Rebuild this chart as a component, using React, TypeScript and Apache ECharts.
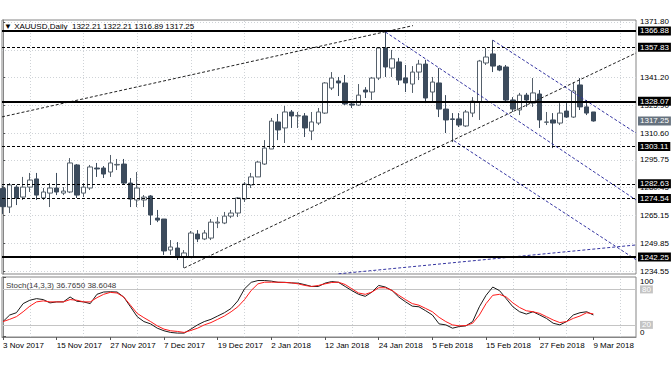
import React, { useEffect, useRef } from "react";
import * as echarts from "echarts";

const FONT = "'Liberation Sans', Arial, sans-serif";

const symbolName = "XAUUSD,Daily";

// Daily OHLC, 3 Nov 2017 (index 0) .. 9 Mar 2018 (index 88)
const opens = [
  1280.0, 1269.8, 1280.8, 1275.3, 1280.8, 1285.3, 1274.8, 1277.5, 1280.3, 1277.5,
  1278.1, 1293.0, 1277.5, 1280.3, 1291.3, 1291.3, 1289.1, 1293.0, 1293.5, 1283.0,
  1273.7, 1273.7, 1275.9, 1263.7, 1263.2, 1246.1, 1247.2, 1242.3, 1242.3, 1254.9,
  1252.2, 1252.7, 1261.0, 1261.0, 1264.8, 1266.5, 1274.2, 1282.0, 1286.4, 1293.5,
  1301.8, 1316.7, 1313.4, 1322.2, 1320.0, 1320.0, 1311.7, 1316.1, 1321.6, 1335.4,
  1339.3, 1338.2, 1326.6, 1326.0, 1334.3, 1333.2, 1340.9, 1357.5, 1346.4, 1349.8,
  1341.0, 1337.6, 1344.2, 1348.6, 1333.2, 1338.2, 1323.8, 1318.4, 1318.4, 1314.5,
  1321.6, 1327.7, 1349.2, 1354.2, 1347.5, 1347.0, 1328.8, 1323.3, 1331.5, 1327.1,
  1332.1, 1316.5, 1317.8, 1316.1, 1322.7, 1319.4, 1337.1, 1325.0, 1322.21,
];
const highs = [
  1281.5, 1283.0, 1282.0, 1286.4, 1288.6, 1288.6, 1280.3, 1283.0, 1288.6, 1280.8,
  1296.8, 1293.5, 1283.0, 1293.0, 1294.1, 1292.4, 1298.5, 1296.3, 1296.3, 1285.8,
  1289.1, 1276.4, 1276.4, 1268.2, 1263.2, 1251.6, 1250.5, 1246.1, 1256.6, 1257.1,
  1257.1, 1263.2, 1264.3, 1267.1, 1268.2, 1275.3, 1283.6, 1288.6, 1295.2, 1306.7,
  1318.9, 1321.1, 1325.5, 1323.3, 1322.2, 1321.6, 1322.2, 1324.4, 1338.7, 1344.2,
  1341.5, 1342.6, 1328.2, 1337.6, 1335.9, 1341.5, 1358.0, 1366.6, 1356.4, 1352.0,
  1348.1, 1347.5, 1350.9, 1350.9, 1341.5, 1346.4, 1331.5, 1321.6, 1321.6, 1323.3,
  1330.4, 1350.9, 1357.5, 1361.8, 1348.1, 1348.1, 1330.4, 1332.7, 1332.7, 1340.9,
  1334.3, 1322.2, 1321.6, 1327.1, 1327.1, 1338.7, 1340.9, 1328.8, 1322.21,
];
const lows = [
  1266.0, 1266.5, 1270.9, 1273.7, 1278.1, 1273.7, 1273.7, 1269.8, 1276.4, 1276.4,
  1277.5, 1274.8, 1275.3, 1279.2, 1286.4, 1285.8, 1286.4, 1290.2, 1282.0, 1269.8,
  1269.8, 1269.8, 1259.9, 1261.5, 1243.4, 1243.4, 1240.6, 1236.2, 1241.7, 1250.5,
  1251.6, 1251.6, 1258.2, 1260.4, 1263.7, 1264.3, 1272.6, 1280.3, 1286.4, 1293.0,
  1301.8, 1306.7, 1305.1, 1313.4, 1313.4, 1308.4, 1306.7, 1315.0, 1321.1, 1334.3,
  1331.0, 1326.0, 1324.4, 1325.5, 1329.9, 1328.8, 1339.8, 1341.5, 1341.5, 1337.1,
  1333.2, 1332.7, 1339.8, 1327.1, 1327.7, 1319.4, 1310.6, 1305.6, 1313.9, 1313.9,
  1319.4, 1317.8, 1348.1, 1344.2, 1344.7, 1327.7, 1322.2, 1320.5, 1325.0, 1325.0,
  1313.4, 1315.0, 1302.3, 1315.0, 1318.9, 1318.9, 1323.3, 1320.5, 1316.89,
];
const closes = [
  1270.0, 1282.0, 1274.8, 1280.8, 1284.7, 1276.4, 1278.1, 1280.3, 1278.1, 1278.6,
  1294.1, 1276.4, 1280.8, 1291.9, 1290.8, 1288.0, 1294.1, 1293.3, 1283.0, 1274.2,
  1280.3, 1275.3, 1265.4, 1262.6, 1245.6, 1247.8, 1242.3, 1244.5, 1255.5, 1252.2,
  1255.5, 1261.5, 1261.5, 1264.8, 1266.5, 1274.8, 1282.5, 1286.4, 1294.6, 1302.3,
  1317.2, 1312.3, 1322.2, 1320.0, 1320.2, 1313.4, 1316.7, 1322.2, 1338.2, 1340.9,
  1338.2, 1326.6, 1326.0, 1331.5, 1333.2, 1340.9, 1357.5, 1347.0, 1351.5, 1339.8,
  1338.2, 1344.2, 1348.6, 1329.9, 1338.7, 1323.8, 1317.8, 1318.1, 1315.0, 1322.2,
  1328.2, 1350.3, 1352.5, 1347.5, 1345.3, 1328.8, 1323.8, 1331.5, 1328.8, 1332.7,
  1317.8, 1316.7, 1316.1, 1321.6, 1319.4, 1333.8, 1325.0, 1321.6, 1317.25,
];

// Stochastic (14,3,3): main (%K) and signal (%D)
const stochK = [
  25.6, 36.7, 40.6, 56, 61.7, 64.4, 62.8, 57.2, 58.9, 58.9,
  67.2, 60, 58.9, 56, 71.7, 75.6, 76, 75.6, 67, 50.6,
  33.9, 25.6, 21.7, 14.4, 10, 7.2, 6.1, 6.1, 12.8, 20,
  25.6, 29.4, 35, 40.6, 47.8, 60.6, 81, 92, 95, 95,
  94, 92, 92, 91, 90.6, 88, 85, 85, 90.6, 93.3,
  92, 85, 78, 71.7, 68.3, 75.6, 86.7, 84, 78, 67,
  59, 51.7, 50.6, 43.9, 36.7, 21.7, 20, 14.4, 17.2, 18.3,
  25.6, 50.6, 70, 84, 78, 64.4, 50.6, 42.2, 38.3, 42.2,
  36.7, 31, 22.8, 20, 25.6, 36.7, 40.6, 42.2, 36.765,
];
const stochD = [
  25.6, 29.4, 33.9, 42.2, 51.7, 58.9, 60.6, 58.9, 58.9, 58.9,
  62.8, 61.7, 58.9, 58.9, 66, 71.7, 75, 73.9, 67, 53.3,
  39.4, 32.2, 25.6, 18.3, 12.8, 10, 8.9, 7.2, 10.6, 14.4,
  20, 23.9, 29.4, 35, 42.2, 50.6, 62.8, 78.3, 89.4, 92.2,
  92.2, 92.2, 91.7, 91.1, 89.4, 86.7, 85, 86.7, 89.4, 91.7,
  92.2, 88.3, 81, 73.9, 71.7, 75.6, 82.8, 82.8, 78.3, 70,
  62.8, 56, 53.3, 47.8, 42.2, 32.8, 25.6, 20, 18.3, 18.9,
  22.8, 36.7, 56, 70, 71.7, 67.2, 57.2, 49.4, 43.9, 42.2,
  39.4, 33.9, 28.3, 23.9, 25.6, 31, 35, 40.6, 38.6048,
];

const dateLabels = [
  "3 Nov 2017", "15 Nov 2017", "27 Nov 2017", "7 Dec 2017", "19 Dec 2017", "2 Jan 2018",
  "12 Jan 2018", "24 Jan 2018", "5 Feb 2018", "15 Feb 2018", "27 Feb 2018", "9 Mar 2018",
];
const dateLabelIndex = [0, 8, 16, 24, 32, 40, 48, 56, 64, 72, 80, 88];
const verticalGridIndex = [4, 12, 20, 28, 36, 44, 52, 60, 68, 76, 84, 92];

// price-axis tick labels that are visible (1356.50 is hidden under the 1357.83 box)
const priceTicks = [1371.8, 1341.2, 1325.9, 1310.6, 1295.75, 1280.45, 1265.15, 1249.85, 1234.55];
const priceGridLines = [1371.8, 1356.5, 1341.2, 1325.9, 1310.6, 1295.75, 1280.45, 1265.15, 1249.85, 1234.55];
const solidLevels = [1366.88, 1328.07, 1242.25];
const dashedLevels = [1357.83, 1303.11, 1282.63, 1274.54];

// trend lines as [barIndex, price] anchor pairs
const blackTrendLines = [
  [[-0.15, 1319.5], [61.1, 1369.8]],
  [[27, 1236.2], [94.35, 1354.7]],
];
const blueTrendLines = [
  [[57, 1366.3], [94.35, 1273.7]],
  [[73, 1361.8], [94.35, 1310.6]],
  [[67.2, 1306.4], [94.35, 1240.8]],
  [[50, 1233.0], [94.35, 1248.9]],
];

const stochLevels = [20, 80];
const stochBounds = [0, 100];
const stochTicks = [0, 20, 80, 100];

const X_MIN = -0.15;
const X_MAX = 94.35;

export default function App() {
  const ref = useRef<HTMLDivElement>(null);

  useEffect(() => {
    if (!ref.current) return;
    const chart = echarts.init(ref.current, undefined, { renderer: "svg" });
    const last = opens.length - 1;
    const header = `\u25BC ${symbolName}  ${opens[last].toFixed(2)} ${highs[last].toFixed(2)} ${lows[last].toFixed(2)} ${closes[last].toFixed(2)}`;
    const stochHeader = `Stoch(14,3,3) ${stochK[last].toFixed(4)} ${stochD[last].toFixed(4)}`;
    const candleData = opens.map((o, i) => [i, o, closes[i], lows[i], highs[i]]);
    const textBase = { fontFamily: FONT, fontSize: 8, color: "#000" };
    const gridLine = { color: "#cfd3d7", width: 1, type: [1, 2] };
    const hiddenLine = { width: 0, color: "rgba(0,0,0,0)" };

    const option: any = {
      animation: false,
      backgroundColor: "#ffffff",
      title: [
        { text: header, left: 4, top: 22, padding: 0, textStyle: { ...textBase, fontWeight: "normal" } },
        { text: stochHeader, left: 6, top: 281, padding: 0, textStyle: { ...textBase, color: "#3a3a3a", fontWeight: "normal" } },
      ],
      grid: [
        { left: 2, right: 36, top: 20, height: 254, show: true, borderColor: "#858585", borderWidth: 1, backgroundColor: "#fff" },
        { left: 2, right: 36, top: 277, height: 60, show: true, borderColor: "#858585", borderWidth: 1, backgroundColor: "#fff" },
      ],
      xAxis: [
        { type: "value", gridIndex: 0, min: X_MIN, max: X_MAX, show: false },
        {
          type: "value", gridIndex: 1, min: X_MIN, max: X_MAX,
          splitLine: { show: false },
          axisLine: { show: true, onZero: false, lineStyle: { color: "#858585" } },
          axisTick: { show: true, customValues: dateLabelIndex, length: 3, lineStyle: { color: "#555" } },
          axisLabel: {
            customValues: dateLabelIndex, ...textBase, align: "left", margin: 4,
            formatter: (v: number) => {
              const k = dateLabelIndex.indexOf(Math.round(v));
              return k >= 0 ? dateLabels[k] : "";
            },
          },
        },
      ],
      yAxis: [
        {
          type: "value", gridIndex: 0, position: "right", min: 1232.9, max: 1372.9, scale: true,
          splitLine: { show: false },
          axisLine: { show: true, lineStyle: { color: "#858585" } },
          axisTick: { show: true, customValues: priceTicks, length: 3, lineStyle: { color: "#555" } },
          axisLabel: { customValues: priceTicks, ...textBase, lineHeight: 8, margin: 4, formatter: (v: number) => v.toFixed(2) },
        },
        {
          type: "value", gridIndex: 1, position: "right", min: -0.5, max: 101,
          splitLine: { show: false },
          axisLine: { show: true, lineStyle: { color: "#858585" } },
          axisTick: { show: true, customValues: stochTicks, length: 3, lineStyle: { color: "#555" } },
          axisLabel: {
            customValues: stochLevels, margin: 4,
            formatter: (v: number) => `{b|${v}}`,
            rich: {
              b: { backgroundColor: "#c4c4c4", color: "#fff", fontFamily: FONT, fontSize: 8, lineHeight: 7, padding: [0, 2, 0, 2] },
            },
          },
        },
      ],
      series: [
        {
          type: "line", xAxisIndex: 0, yAxisIndex: 0, data: [], silent: true, z: 1,
          markLine: {
            silent: true, symbol: "none", z: 1, label: { show: false }, lineStyle: gridLine,
            data: [
              ...priceGridLines.map((v) => ({ yAxis: v })),
              ...verticalGridIndex.map((v) => ({ xAxis: v })),
            ],
          },
        },
        {
          type: "candlestick", xAxisIndex: 0, yAxisIndex: 0, data: candleData, barWidth: 5, z: 2,
          itemStyle: { color: "#ffffff", color0: "#3c4b5c", borderColor: "#55606b", borderColor0: "#3c4b5c", borderWidth: 1 },
        },
        ...blackTrendLines.map((pts) => ({
          type: "line", xAxisIndex: 0, yAxisIndex: 0, data: pts, symbol: "none", silent: true, z: 3,
          lineStyle: { color: "#222", width: 1, type: [3, 2] },
        })),
        ...blueTrendLines.map((pts) => ({
          type: "line", xAxisIndex: 0, yAxisIndex: 0, data: pts, symbol: "none", silent: true, z: 3,
          lineStyle: { color: "#3434a0", width: 1, type: [3, 2] },
        })),
        {
          type: "line", xAxisIndex: 0, yAxisIndex: 0, data: [], silent: true, z: 4,
          markLine: {
            silent: true, symbol: "none", z: 6,
            label: {
              show: true, position: "end", distance: 2, formatter: (p: any) => Number(p.value).toFixed(2),
              backgroundColor: "#000", color: "#fff", fontFamily: FONT, fontSize: 8, lineHeight: 8, padding: [1, 2, 0, 2],
            },
            data: [
              ...solidLevels.map((v) => ({ yAxis: v, lineStyle: { color: "#000", width: 2, type: "solid" } })),
              ...dashedLevels.map((v) => ({ yAxis: v, lineStyle: { color: "#000", width: 1, type: [3, 2] } })),
              {
                yAxis: closes[last], lineStyle: hiddenLine,
                label: { backgroundColor: "#66727e", color: "#fff" },
              },
            ],
          },
        },
        {
          type: "line", xAxisIndex: 1, yAxisIndex: 1, data: [], silent: true, z: 1,
          markLine: {
            silent: true, symbol: "none", z: 1, label: { show: false },
            data: [
              ...verticalGridIndex.map((v) => ({ xAxis: v, lineStyle: gridLine })),
              ...stochLevels.map((v) => ({ yAxis: v, lineStyle: { color: "#c4c4c4", width: 1, type: "solid" } })),
              ...stochBounds.map((v) => ({
                yAxis: v, lineStyle: hiddenLine,
                label: {
                  show: true, position: "end", distance: 4, offset: [0, v > 50 ? 4 : -4],
                  formatter: String(v), fontFamily: FONT, fontSize: 8, lineHeight: 7, color: "#000",
                },
              })),
            ],
          },
        },
        {
          type: "line", xAxisIndex: 1, yAxisIndex: 1, data: stochK.map((v, i) => [i, v]),
          symbol: "none", silent: true, z: 3, lineStyle: { color: "#1a1a1a", width: 1 },
        },
        {
          type: "line", xAxisIndex: 1, yAxisIndex: 1, data: stochD.map((v, i) => [i, v]),
          symbol: "none", silent: true, z: 4, lineStyle: { color: "#ff1a1a", width: 1 },
        },
      ],
    };

    chart.setOption(option);
    return () => chart.dispose();
  }, []);

  return (
    <div
      ref={ref}
      style={{ position: "absolute", left: 0, top: 0, width: 672, height: 372, background: "#fff" }}
    />
  );
}
